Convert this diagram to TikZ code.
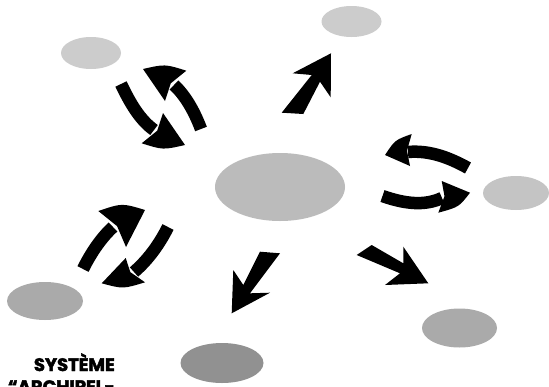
\documentclass[tikz,border=0pt]{standalone}
\usepackage{fontspec}
\newfontfamily\titlefont{Poppins}[FakeBold=2.5]
\usetikzlibrary{shapes.geometric,calc}
\definecolor{hubgray}{HTML}{BBBBBB}
\definecolor{lightgray}{HTML}{CCCCCC}
\definecolor{rightgray}{HTML}{C4C4C4}
\definecolor{midgray}{HTML}{AAAAAA}
\definecolor{darkgray}{HTML}{919191}
% #1 outer barb, #2 tip, #3 inner barb (spike), #4 bulge control of outer edge
\newcommand{\arrhead}[4]{\fill (#1) .. controls (#4) .. (#2) -- (#3) -- ($(#1)!0.5!(#3)!0.15!(#2)$) -- cycle;}
\begin{document}
\begin{tikzpicture}[x=1pt,y=-1pt,
  blob/.style={ellipse,draw=none,inner sep=0pt,outer sep=0pt},
  shaft/.style={line width=12.5pt,draw=black},
  label/.style={font=\titlefont\bfseries\fontsize{18}{22}\selectfont,inner sep=0pt}]
\clip (0,0) rectangle (549,386);
\fill[white] (0,0) rectangle (549,386);
% ellipses
\node[blob,fill=hubgray,minimum width=130pt,minimum height=68pt] (hub) at (280,187) {};
\node[blob,fill=lightgray,minimum width=60pt,minimum height=31pt] (tr) at (351.5,21.5) {};
\node[blob,fill=lightgray,minimum width=60pt,minimum height=32pt] (tl) at (91,53) {};
\node[blob,fill=rightgray,minimum width=66pt,minimum height=34pt] (rt) at (516,193) {};
\node[blob,fill=midgray,minimum width=76pt,minimum height=38pt] (bl) at (45,301) {};
\node[blob,fill=darkgray,minimum width=83pt,minimum height=40pt] (bc) at (222,363) {};
\node[blob,fill=midgray,minimum width=75pt,minimum height=39pt] (br) at (459.5,328) {};
% straight arrows
\fill (281.7,112.7) -- (303.3,114) -- (320,81.7) -- (330.7,97.3) -- (331,53.3) -- (292.7,73.3) -- (311.7,75) -- cycle;
\fill (260,251.7) -- (280,253.3) -- (250,293.3) -- (270,292.7) -- (231.7,313.3) -- (233.3,270) -- (243.3,285) -- cycle;
\fill (356.7,255) -- (371.7,245) -- (403.3,263.3) -- (403.3,246.7) -- (428.3,283.3) -- (385,285) -- (400,273.3) -- cycle;
% top-left pair
\draw[shaft] (121,84) .. controls (130,103) and (140,120) .. (154,130);
\arrhead{141.7,143.3}{185,145}{163,113}{163,150}
\draw[shaft] (201,129) .. controls (195,113) and (186,96) .. (174,85);
\arrhead{186.3,70.7}{143,69}{165,101}{165,64}
% right pair
\draw[shaft] (468,168) .. controls (450,158) and (430,150) .. (408,152);
\arrhead{411.7,134}{385,155}{410,166}{395,140}
\draw[shaft] (382.5,196) .. controls (405,204) and (425,206) .. (442,198);
\arrhead{438.3,212.7}{470,192.7}{441.7,181}{459,207}
% bottom-left pair
\draw[shaft] (83,269) .. controls (91,253) and (101,238) .. (113,227);
\arrhead{98.3,211}{145,210}{126,247}{122,203}
\draw[shaft] (168,227) .. controls (160,243) and (149,259) .. (134,272);
\arrhead{145,282.3}{101.7,283.3}{125.7,258}{123,289}
% title
\node[label,anchor=base east] (t1) at (115,371) {SYSTÈME};
\node[label,anchor=base east] (t2) at (115,393) {“ARCHIPEL-};
\end{tikzpicture}
\end{document}
